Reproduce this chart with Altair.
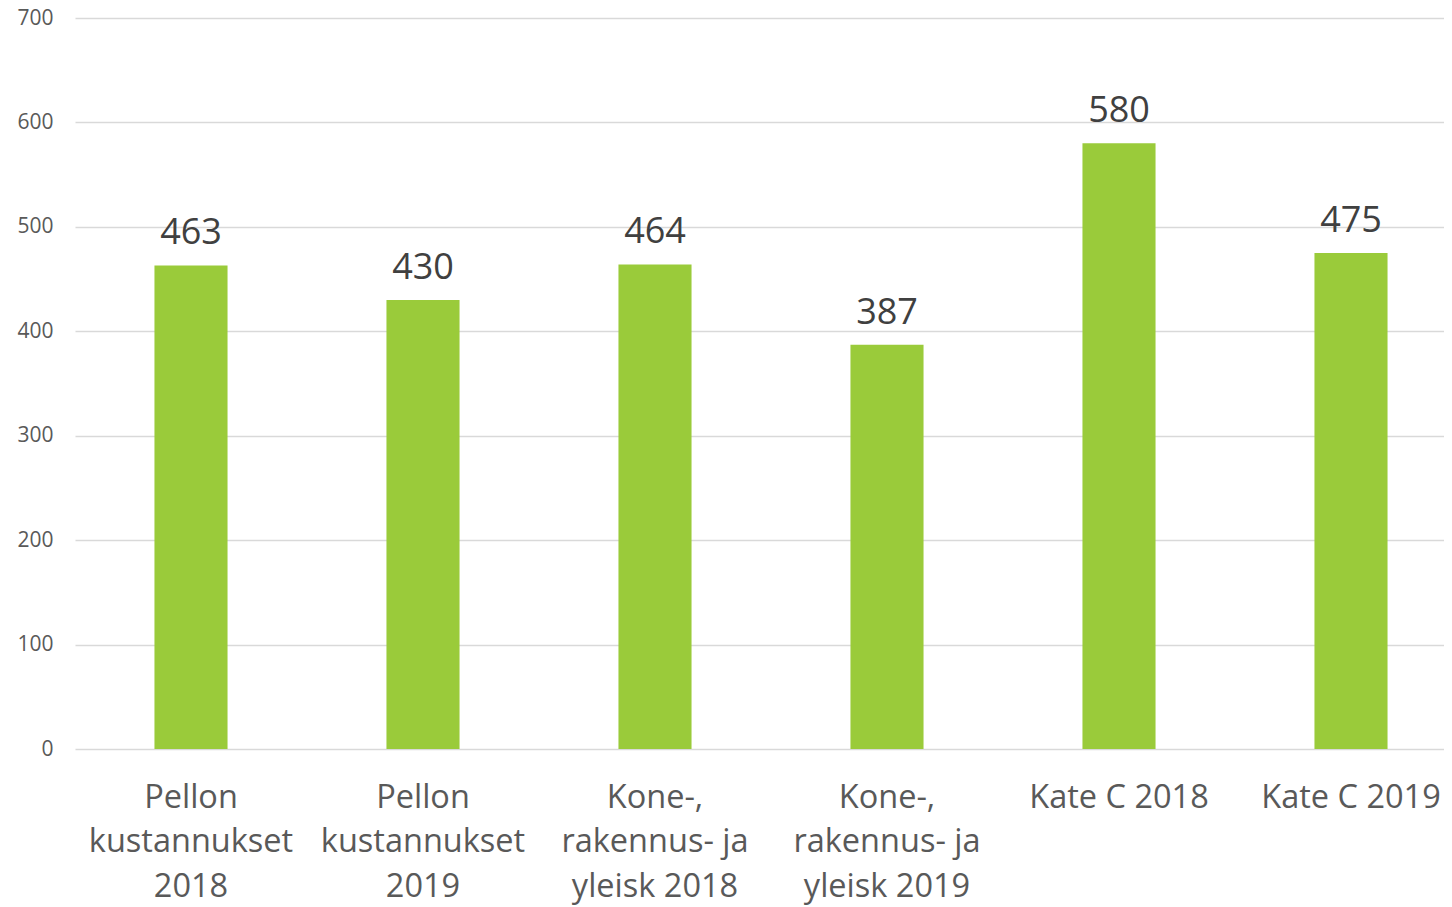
import altair as alt
import pandas as pd

categories = [
    "Pellon|kustannukset|2018",
    "Pellon|kustannukset|2019",
    "Kone-,|rakennus- ja|yleisk 2018",
    "Kone-,|rakennus- ja|yleisk 2019",
    "Kate C 2018",
    "Kate C 2019",
]
values = [463, 430, 464, 387, 580, 475]
y_ticks = [0, 100, 200, 300, 400, 500, 600, 700]

df = pd.DataFrame({"cat": categories, "val": values})

FONT = "Open Sans"

x = alt.X(
    "cat:N",
    sort=categories,
    scale=alt.Scale(range=[0, 1392], paddingInner=0.685, paddingOuter=0.3425),
    axis=alt.Axis(
        title=None,
        labelAngle=0,
        labelExpr="split(datum.label, '|')",
        labelFontSize=32.5,
        labelLineHeight=44.5,
        labelColor="#595959",
        labelFont=FONT,
        labelPadding=32,
        labelLimit=0,
        ticks=False,
        domain=False,
        grid=False,
        labelBaseline="top",
    ),
)
y = alt.Y(
    "val:Q",
    scale=alt.Scale(domain=[0, 700], nice=False),
    axis=alt.Axis(
        title=None,
        values=y_ticks,
        labelFontSize=21,
        labelColor="#595959",
        labelFont=FONT,
        labelPadding=22,
        ticks=False,
        domain=False,
        grid=True,
        gridColor="#d9d9d9",
        gridWidth=1.5,
    ),
)

bars = alt.Chart(df).mark_bar(color="#9ACB3A").encode(x=x, y=y)
labels = alt.Chart(df).mark_text(
    font=FONT, fontSize=36, color="#404040", baseline="alphabetic", dy=-21
).encode(x=x, y=y, text="val:Q")

chart = (
    (bars + labels)
    .properties(
        width=1369,
        height=731,
        autosize=alt.AutoSizeParams(type="none"),
        padding={"left": 67, "top": 10, "right": 0, "bottom": 158},
    )
    .configure(background="white")
    .configure_view(strokeWidth=0, stroke="transparent")
)

chart.save("out.html", embed_options={"renderer": "svg", "actions": False})
